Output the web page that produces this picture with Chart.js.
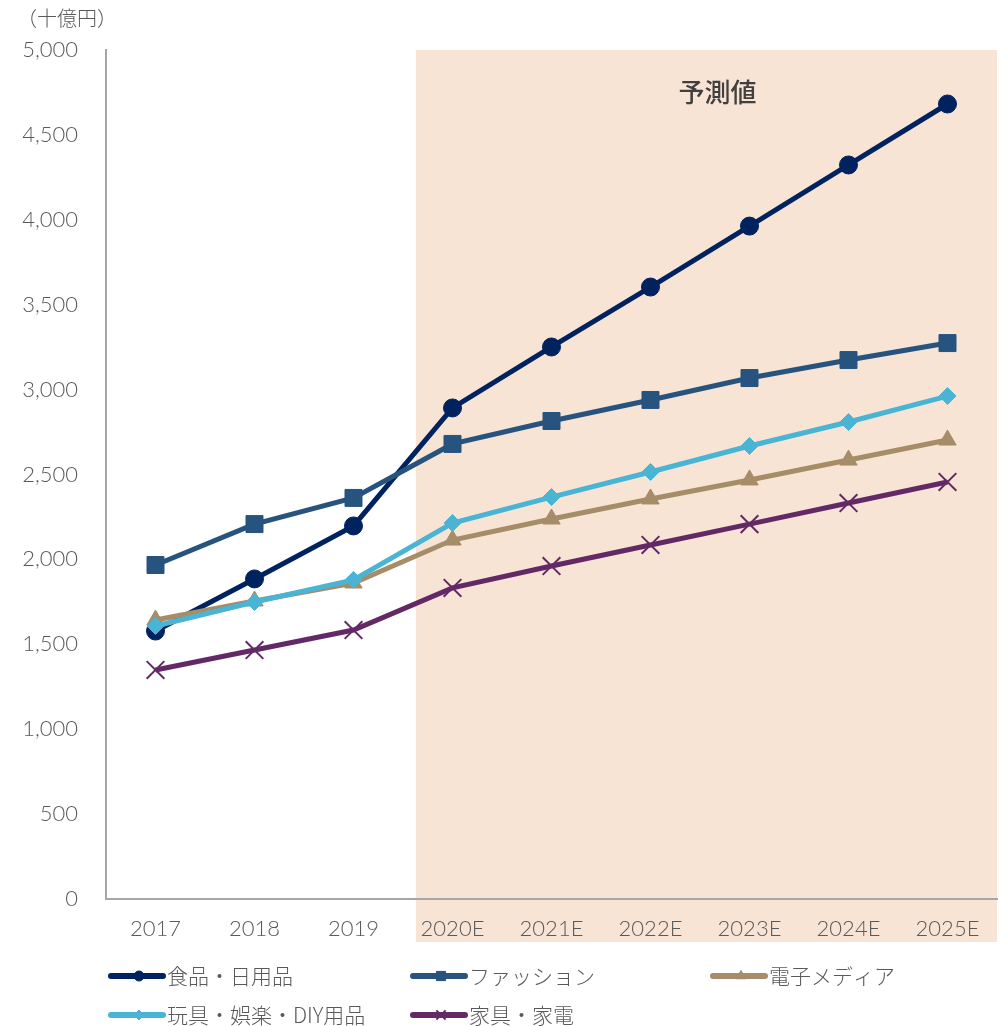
<!DOCTYPE html>
<html>
<head>
<meta charset="utf-8">
<script src="https://cdn.jsdelivr.net/npm/chart.js@4/dist/chart.umd.min.js"></script>
<style>
html,body{margin:0;padding:0;background:#fff;}
#wrap{position:relative;width:1007px;height:1026px;}
</style>
</head>
<body>
<div id="wrap"><canvas id="c" width="1007" height="1026"></canvas></div>
<script>
const categories = ["2017","2018","2019","2020E","2021E","2022E","2023E","2024E","2025E"];
const foodDaily   = [1578,1885,2197,2892,3251,3604,3963,4323,4682];
const fashion     = [1967,2208,2362,2680,2815,2939,3068,3174,3274];
const electronics = [1643,1755,1861,2114,2238,2356,2468,2585,2703];
const toysDiy     = [1608,1749,1879,2214,2367,2515,2668,2809,2962];
const furniture   = [1349,1466,1584,1832,1961,2085,2208,2332,2456];
const seriesNames = ["食品・日用品","ファッション","電子メディア","玩具・娯楽・DIY用品","家具・家電"];
const yTicks = [0,500,1000,1500,2000,2500,3000,3500,4000,4500,5000];
const forecastStartIndex = 3;
const unitLabel = "（十億円）";
const forecastLabel = "予測値";

const JFONT = '"Noto Sans CJK JP","Noto Sans",sans-serif';
const NFONT = 'Lato,"Noto Sans",sans-serif';
const TXT = '#595959';

const shadePlugin = {
  id:'shade',
  beforeDraw(chart){
    const {ctx, chartArea, scales:{x}} = chart;
    const step = x.getPixelForValue(1) - x.getPixelForValue(0);
    const left = x.getPixelForValue(forecastStartIndex-1) + step*0.63;
    ctx.save();
    ctx.fillStyle = '#F8E4D4';
    ctx.fillRect(left, chartArea.top, chartArea.right-left, chartArea.bottom + 43 - chartArea.top);
    ctx.fillStyle = '#404040';
    ctx.font = '500 26px ' + JFONT;
    ctx.textAlign = 'center';
    ctx.textBaseline = 'middle';
    ctx.fillText(forecastLabel, (left+chartArea.right)/2 + 11, chartArea.top + 42);
    ctx.restore();
  },
  afterDraw(chart){
    const {ctx} = chart;
    ctx.save();
    ctx.fillStyle = TXT;
    ctx.font = '300 20px ' + JFONT;
    ctx.textAlign = 'left';
    ctx.textBaseline = 'middle';
    ctx.fillText(unitLabel, 17, 18);
    const cols = [108, 410, 710];
    const rows = [976, 1015];
    chart.data.datasets.forEach((ds,i)=>{
      const cx = cols[i%3], cy = rows[Math.floor(i/3)];
      ctx.strokeStyle = ds.borderColor;
      ctx.lineWidth = 6;
      ctx.lineCap = 'round';
      ctx.beginPath(); ctx.moveTo(cx+3, cy); ctx.lineTo(cx+55, cy); ctx.stroke();
      ctx.fillStyle = ds.borderColor;
      ctx.strokeStyle = ds.borderColor;
      ctx.lineWidth = ds.pointBorderWidth || 1;
      ctx.lineCap = 'butt';
      Chart.helpers.drawPoint(ctx, {pointStyle: ds.pointStyle, radius: ds.legendRadius, borderWidth: ds.pointBorderWidth || 1}, cx+31, cy);
      ctx.fillStyle = TXT;
      ctx.font = '300 21px ' + JFONT;
      ctx.fillText(ds.label, cx+59, cy);
    });
    ctx.restore();
  }
};

function mk(label, data, color, style, r, extra){
  return Object.assign({
    label, data,
    borderColor: color, backgroundColor: color,
    pointBackgroundColor: color, pointBorderColor: color,
    borderWidth: 5, pointStyle: style, pointRadius: r, pointHoverRadius: r,
    pointBorderWidth: 1, tension: 0, legendRadius: 4
  }, extra||{});
}

const datasets = [
  mk(seriesNames[0], foodDaily,   '#00225E', 'circle', 9, {legendRadius:5}),
  mk(seriesNames[1], fashion,     '#27537F', 'rect', 12, {legendRadius:6.5}),
  mk(seriesNames[2], electronics, '#A68C69', 'triangle', 10, {legendRadius:5.5}),
  mk(seriesNames[3], toysDiy,     '#4AB4D4', 'rectRot', 8.5, {legendRadius:5}),
  mk(seriesNames[4], furniture,   '#632967', 'crossRot', 12.5, {pointBorderWidth:2, legendRadius:6.5}),
];
datasets.forEach((d,i)=>{ d.order = -i; });

new Chart(document.getElementById('c'), {
  type:'line',
  data:{labels:categories, datasets},
  plugins:[shadePlugin],
  options:{
    responsive:false, animation:false,
    layout:{autoPadding:false, padding:{top:50,right:10,bottom:67,left:0}},
    plugins:{legend:{display:false}, tooltip:{enabled:false}},
    scales:{
      x:{
        offset:true,
        grid:{display:false, drawTicks:false},
        border:{display:true, color:'#A6A6A6', width:2},
        ticks:{color:TXT, font:{family:NFONT, size:22, weight:300}, padding:17, maxRotation:0},
        afterFit(s){ s.height = 60; s.paddingLeft = 0; s.paddingRight = 0; }
      },
      y:{
        min:0, max:5000,
        afterBuildTicks(s){ s.ticks = yTicks.map(v=>({value:v})); },
        grid:{display:false, drawTicks:false},
        border:{display:true, color:'#A6A6A6', width:2},
        ticks:{color:TXT, font:{family:NFONT, size:22, weight:300}, padding:28,
          callback:(v)=>v.toLocaleString('en-US')},
        afterFit(s){ s.width = 106; s.paddingTop = 0; s.paddingBottom = 0; }
      }
    }
  }
});
</script>
</body>
</html>
